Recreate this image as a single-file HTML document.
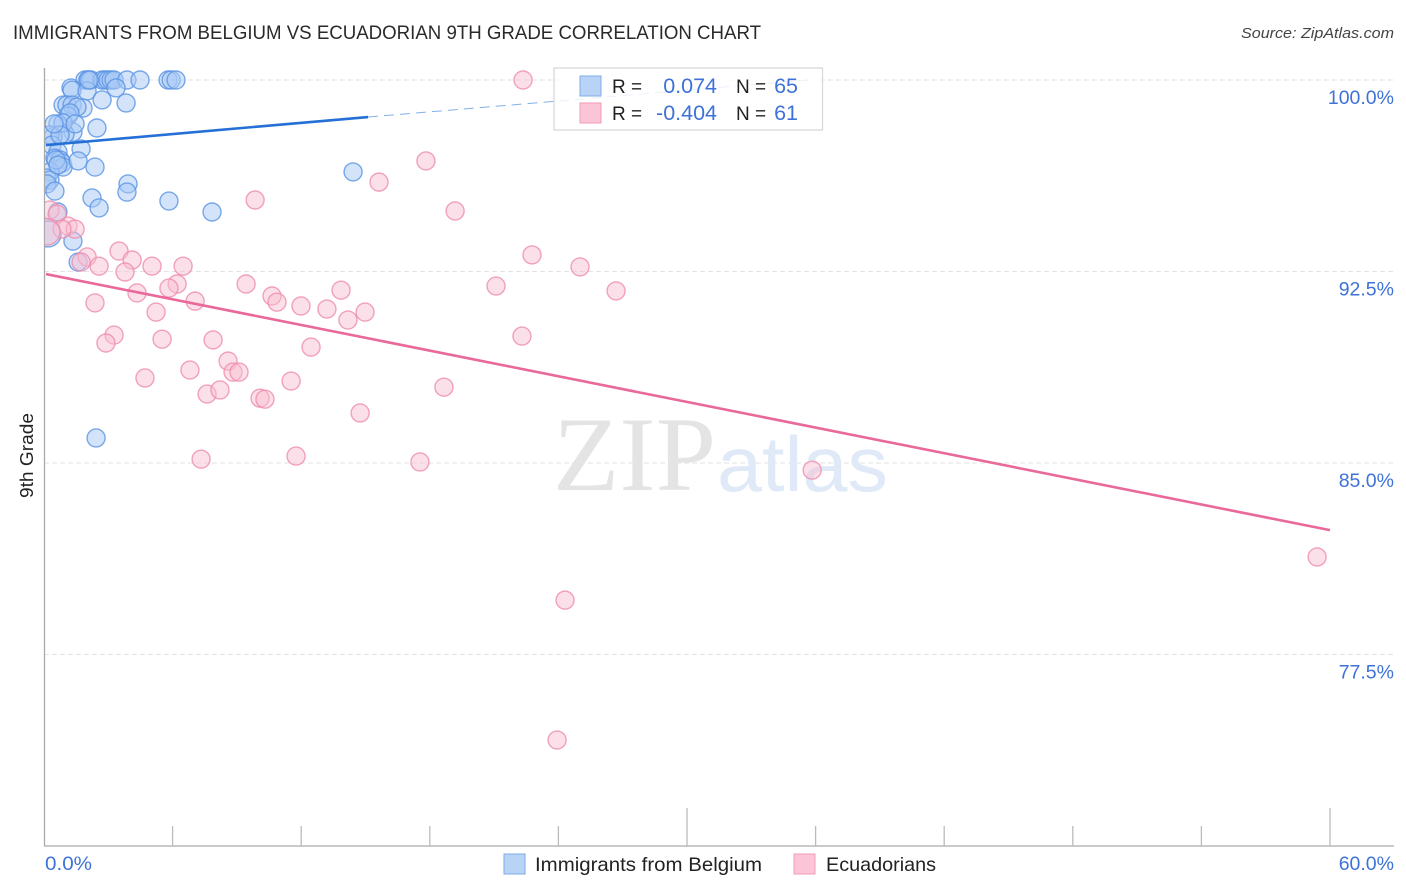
<!DOCTYPE html>
<html lang="en">
<head>
<meta charset="utf-8">
<title>Immigrants from Belgium vs Ecuadorian 9th Grade Correlation Chart</title>
<style>
html,body{margin:0;padding:0;background:#fff;width:1406px;height:892px;overflow:hidden}
svg{display:block;font-family:"Liberation Sans",sans-serif}
</style>
</head>
<body>
<svg id="chart" xmlns="http://www.w3.org/2000/svg" width="1406" height="892" viewBox="0 0 1406 892">
  <defs>
    <clipPath id="plot-clip"><rect x="45" y="60" width="1349" height="786"/></clipPath>
  </defs>
  <text x="13" y="39" font-size="19" fill="#2a2a2a" textLength="748" lengthAdjust="spacingAndGlyphs">IMMIGRANTS FROM BELGIUM VS ECUADORIAN 9TH GRADE CORRELATION CHART</text>
  <text x="1394" y="38" font-size="15" font-style="italic" fill="#444" text-anchor="end" textLength="153" lengthAdjust="spacingAndGlyphs">Source: ZipAtlas.com</text>

  <g id="grid"></g>

  <g>
    <text x="553" y="490" font-family="'Liberation Serif',serif" font-size="106" fill="#e4e4e4" textLength="163" lengthAdjust="spacingAndGlyphs">ZIP</text>
    <text x="717" y="491" font-size="78" fill="#dfe9f8" textLength="171" lengthAdjust="spacingAndGlyphs">atlas</text>
  </g>

  <g id="axes">
    <line x1="44.5" y1="68" x2="44.5" y2="846" stroke="#aaa" stroke-width="1.3"/>
    <line x1="44" y1="846" x2="1394" y2="846" stroke="#aaa" stroke-width="1.3"/>
  </g>

  <g clip-path="url(#plot-clip)">
    <g id="points-blue"></g>
    <g id="points-pink"></g>
  </g>
  <g id="trends"></g>

  <g>
    <rect x="554" y="68" width="268.500" height="62" fill="#fff" fill-opacity="0.82" stroke="#d9d9d9" stroke-width="1.300"/>
    <rect x="580" y="76" width="21" height="20" fill="#b9d3f7" stroke="#7fabea" stroke-width="1"/>
    <rect x="580" y="103" width="21" height="20" fill="#fcc5d7" stroke="#f09bb7" stroke-width="1"/>
    <text x="612" y="93" font-size="19" fill="#222">R =</text>
    <text x="717" y="93" font-size="21.500" fill="#3e72d8" text-anchor="end">0.074</text>
    <text x="736" y="93" font-size="19" fill="#222">N =</text>
    <text x="798" y="93" font-size="21.500" fill="#3e72d8" text-anchor="end">65</text>
    <text x="612" y="120" font-size="19" fill="#222">R =</text>
    <text x="717" y="120" font-size="21.500" fill="#3e72d8" text-anchor="end">-0.404</text>
    <text x="736" y="120" font-size="19" fill="#222">N =</text>
    <text x="798" y="120" font-size="21.500" fill="#3e72d8" text-anchor="end">61</text>
  </g>

  <text transform="translate(33,498) rotate(-90)" font-size="18" fill="#222" textLength="85" lengthAdjust="spacingAndGlyphs">9th Grade</text>

  <g>
    <rect x="504" y="854" width="21" height="20" fill="#b9d3f7" stroke="#7fabea" stroke-width="1"/>
    <text x="535" y="871" font-size="19.500" fill="#222" textLength="227" lengthAdjust="spacingAndGlyphs">Immigrants from Belgium</text>
    <rect x="794" y="854" width="21" height="20" fill="#fcc5d7" stroke="#f09bb7" stroke-width="1"/>
    <text x="826" y="871" font-size="19.500" fill="#222" textLength="110" lengthAdjust="spacingAndGlyphs">Ecuadorians</text>
  </g>
</svg>

<script>
const yTickValues = [100, 92.5, 85, 77.5];
const yTickLabels = ['100.0%', '92.5%', '85.0%', '77.5%'];
const xTickValues = [0, 6, 12, 18, 24, 30, 36, 42, 48, 54, 60];
const xMajorTicks = [30, 60];
const xEndLabels = ['0.0%', '60.0%'];

const belgiumX = [1.91,2.05,2.19,2.71,2.85,2.99,3.13,3.27,3.87,4.48,5.79,5.93,6.16,
  1.26,1.31,2.01,3.36,2.71,3.83,
  0.89,1.07,1.31,1.82,1.54,
  1.12,1.21,2.47,0.65,1.35,0.98,0.42,0.28,0.89,1.45,
  1.73,0.37,0.65,0.51,0.75,0.84,0.89,1.59,2.38,
  0.28,0.14,0.28,0.14,0.51,3.92,3.87,2.24,2.57,5.83,7.84,14.42,2.43,1.35,1.59,0.65,0.19,
  0.75,0.47,0.56,0.65,2.10];
const belgiumY = [100,100,100,100,100,100,100,100,100,100,100,100,100,
  99.69,99.60,99.57,99.69,99.22,99.10,
  99.02,99.02,99.02,98.90,98.94,
  98.59,98.71,98.12,98.28,97.96,97.88,97.77,97.85,98.32,98.28,
  97.30,97.45,97.18,96.94,96.87,96.75,96.59,96.83,96.59,
  96.40,96.16,96.08,95.93,95.65,95.93,95.61,95.38,94.99,95.26,94.83,96.40,85.98,93.69,92.87,94.83,93.97,
  97.85,98.28,96.87,96.67,100];
const belgiumSize = [0,0,0,0,0,0,0,0,0,0,0,0,0,
  0,0,0,0,0,0,0,0,0,0,0,0,0,0,0,0,0,0,0,0,0,0,0,0,0,0,0,0,0,0,0,0,0,0,0,0,0,0,0,0,0,0,0,0,0,0,1,
  0,0,0,0,0];

const ecuadorX = [22.35,17.82,15.63,9.85,19.18,0.28,0.61,1.12,1.45,0.84,0.14,3.50,2.01,4.11,2.57,5.04,6.49,1.73,3.78,
  22.77,25.01,26.69,21.09,9.43,6.21,5.83,4.34,2.38,7.05,10.64,10.87,11.99,13.20,13.86,14.18,14.98,5.23,
  3.27,2.89,5.51,7.89,22.30,12.46,8.59,6.81,4.71,8.82,9.10,11.53,18.66,7.61,8.21,10.08,10.31,14.75,
  7.33,11.76,17.54,35.84,59.40,24.31,23.94];
const ecuadorY = [100,96.83,96.00,95.30,94.87,94.91,94.75,94.28,94.16,94.16,94.05,93.30,93.07,92.95,92.71,92.71,92.71,92.87,92.48,
  93.15,92.68,91.74,91.93,92.01,92.01,91.85,91.66,91.27,91.34,91.54,91.30,91.15,91.03,91.77,90.60,90.91,90.91,
  90.01,89.70,89.85,89.82,89.97,89.54,88.99,88.64,88.33,88.56,88.56,88.21,87.97,87.70,87.86,87.54,87.50,86.96,
  85.15,85.27,85.04,84.72,81.32,79.63,74.15];
const ecuadorSize = [0,0,0,0,0,0,0,0,0,0,1];

const belgiumTrendX = [0.09, 15.12];
const belgiumTrendY = [97.45, 98.55];
const belgiumDashX = [15.12, 35.65];
const belgiumDashY = [98.55, 100];
const ecuadorTrendX = [0.09, 60];
const ecuadorTrendY = [92.40, 82.37];

const NS = 'http://www.w3.org/2000/svg';
const sx = v => 44 + (v / 60) * 1286;
const sy = v => 80 + ((100 - v) / 7.5) * 191.5;

function make(tag, attrs, parent) {
  const el = document.createElementNS(NS, tag);
  for (const k in attrs) el.setAttribute(k, attrs[k]);
  parent.appendChild(el);
  return el;
}

const grid = document.getElementById('grid');
const axes = document.getElementById('axes');
yTickValues.forEach(function (v, i) {
  const g = make('line', {x1: 44, x2: 1394, y1: sy(v), y2: sy(v), stroke: '#e2e2e2', 'stroke-width': 1, 'stroke-dasharray': '5 3'}, grid);
  
  
  const t = make('text', {x: 1394, y: sy(v) + 24, 'font-size': 19.5, fill: '#3e72d8', 'text-anchor': 'end'}, axes);
  t.textContent = yTickLabels[i];
  
  
});
xTickValues.slice(1).forEach(function (v) {
  const major = xMajorTicks.includes(v);
  const m = make('line', {x1: sx(v), x2: sx(v), y1: major ? 808 : 826, y2: 846, stroke: '#bbb', 'stroke-width': 1.3}, axes);
  
  
});
const xl0 = make('text', {x: 45, y: 870, 'font-size': 19.5, fill: '#3e72d8', textLength: 47, lengthAdjust: 'spacingAndGlyphs'}, axes);
xl0.textContent = xEndLabels[0];


const xl1 = make('text', {x: 1394, y: 870, 'font-size': 19.5, fill: '#3e72d8', 'text-anchor': 'end'}, axes);
xl1.textContent = xEndLabels[1];



function drawPoints(parentId, xs, ys, sizes, fill, stroke, fillOpacity, name) {
  const parent = document.getElementById(parentId);
  xs.forEach(function (x, i) {
    const c = make('circle', {cx: sx(x), cy: sy(ys[i]), r: sizes[i] ? 13 : 9, fill: fill, 'fill-opacity': fillOpacity, stroke: stroke, 'stroke-opacity': 0.8, 'stroke-width': 1.4}, parent);
    
    
  });
}
drawPoints('points-blue', belgiumX, belgiumY, belgiumSize, '#a9caf5', '#5a93e4', 0.52, 'belgium-point');
drawPoints('points-pink', ecuadorX, ecuadorY, ecuadorSize, '#f9bfd2', '#ee8cac', 0.48, 'ecuadorian-point');

const trends = document.getElementById('trends');
const dash = make('line', {x1: sx(belgiumDashX[0]), y1: sy(belgiumDashY[0]), x2: sx(belgiumDashX[1]), y2: sy(belgiumDashY[1]), stroke: '#4f8ee0', 'stroke-width': 1, 'stroke-dasharray': '10 6', 'stroke-opacity': 0.7}, trends);


const bt = make('line', {x1: sx(belgiumTrendX[0]), y1: sy(belgiumTrendY[0]), x2: sx(belgiumTrendX[1]), y2: sy(belgiumTrendY[1]), stroke: '#2470d6', 'stroke-width': 2.6}, trends);


const pt = make('line', {x1: sx(ecuadorTrendX[0]), y1: sy(ecuadorTrendY[0]), x2: sx(ecuadorTrendX[1]), y2: sy(ecuadorTrendY[1]), stroke: '#e9699a', 'stroke-width': 2.6}, trends);


</script>
</body>
</html>
